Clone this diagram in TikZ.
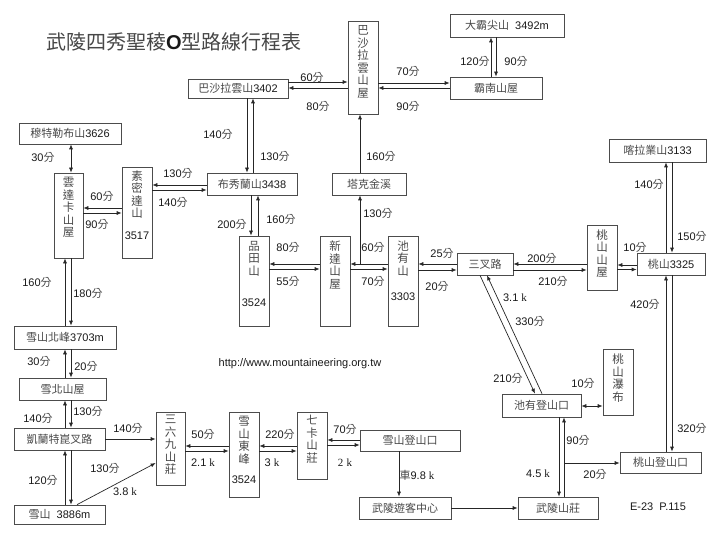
\documentclass[tikz,border=0pt]{standalone}
\usepackage{fontspec}
\setmainfont{Liberation Sans}
\newfontfamily\cjk{Noto Sans CJK TC}
\newfontfamily\serk{Liberation Serif}
\usetikzlibrary{arrows.meta}
\newcommand\C[1]{{\cjk\color{black!72}#1}}
\newcommand\Fen{{\cjk\color{black!72}分}}
\newcommand\Kk{{\serk k}}
\begin{document}
\begin{tikzpicture}[x=1pt,y=-1pt,
  every node/.style={font=\fontsize{11}{12}\selectfont, text=black!90},
  bx/.style={draw=black!70, line width=0.7pt, inner sep=0pt},
  vt/.style={align=center, inner sep=0pt, anchor=north, font=\cjk\fontsize{11.5}{12.5}\selectfont, text=black!72},
  lb/.style={inner sep=0pt},
  arr/.style={draw=black!85, line width=0.7pt, -{Latex[length=5pt,width=4pt]}},
  dbl/.style={draw=black!85, line width=0.7pt, {Latex[length=5pt,width=4pt]}-{Latex[length=5pt,width=4pt]}}]
\useasboundingbox (0,0) rectangle (720,540);

% title
\node[inner sep=0pt] (title) at (174,42) {\fontsize{20}{20}\selectfont\C{武陵四秀聖稜}{\bfseries O}\C{型路線行程表}};

% boxes
\node[bx, minimum width=100pt, minimum height=19pt] (bsl) at (238,88.5) {\C{巴沙拉雲山}3402};
\node[bx, minimum width=30pt, minimum height=93pt] (bsh) at (363,67.5) {};
\node[vt] (bsht) at ([yshift=-5pt]bsh.north) {巴\\沙\\拉\\雲\\山\\屋};
\node[bx, minimum width=114pt, minimum height=23pt] (dbj) at (507,25.5) {\C{大霸尖山}\ \ 3492m};
\node[bx, minimum width=92pt, minimum height=22pt] (bnh) at (496,88) {\C{霸南山屋}};
\node[bx, minimum width=102pt, minimum height=21pt] (mtl) at (70,133.5) {\C{穆特勒布山}3626};
\node[bx, minimum width=29pt, minimum height=85pt] (ydk) at (68.5,215.5) {};
\node[vt] (ydkt) at ([yshift=-4.5pt]ydk.north) {雲\\達\\卡\\山\\屋};
\node[bx, minimum width=30pt, minimum height=91pt] (smd) at (137,212.5) {};
\node[vt] (smdt) at ([yshift=-3.5pt]smd.north) {素\\密\\達\\山};
\node[lb] (smdn) at (137,236) {3517};
\node[bx, minimum width=90pt, minimum height=22pt] (bxl) at (252,184) {\C{布秀蘭山}3438};
\node[bx, minimum width=74pt, minimum height=22pt] (tkj) at (369,184) {\C{塔克金溪}};
\node[bx, minimum width=30pt, minimum height=90pt] (ptm) at (254,281) {};
\node[vt] (ptmt) at ([yshift=-5pt]ptm.north) {品\\田\\山};
\node[lb] (ptmn) at (254,303) {3524};
\node[bx, minimum width=30pt, minimum height=90pt] (xdh) at (335,281) {};
\node[vt] (xdht) at ([yshift=-5pt]xdh.north) {新\\達\\山\\屋};
\node[bx, minimum width=30pt, minimum height=90pt] (cys) at (403,281) {};
\node[vt] (cyst) at ([yshift=-5pt]cys.north) {池\\有\\山};
\node[lb] (cysn) at (403,297) {3303};
\node[bx, minimum width=56pt, minimum height=22pt] (scl) at (485,264) {\C{三叉路}};
\node[bx, minimum width=30pt, minimum height=65pt] (tsh) at (602,257.5) {};
\node[vt] (tsht) at ([yshift=-4.5pt]tsh.north) {桃\\山\\山\\屋};
\node[bx, minimum width=68pt, minimum height=22pt] (ts) at (671,264) {\C{桃山}3325};
\node[bx, minimum width=97pt, minimum height=23pt] (kly) at (657.5,150.5) {\C{喀拉業山}3133};
\node[bx, minimum width=79pt, minimum height=23pt] (cyd) at (541.5,405.5) {\C{池有登山口}};
\node[bx, minimum width=30pt, minimum height=66pt] (tsp) at (618,382) {};
\node[vt] (tspt) at ([yshift=-5pt]tsp.north) {桃\\山\\瀑\\布};
\node[bx, minimum width=81pt, minimum height=21pt] (tsd) at (660.5,462.5) {\C{桃山登山口}};
\node[bx, minimum width=80pt, minimum height=22pt] (wls) at (558,508) {\C{武陵山莊}};
\node[bx, minimum width=92pt, minimum height=22pt] (yk) at (405,508) {\C{武陵遊客中心}};
\node[bx, minimum width=100pt, minimum height=21pt] (xsd) at (410,440.5) {\C{雪山登山口}};
\node[bx, minimum width=30pt, minimum height=67pt] (qk) at (312,445.5) {};
\node[vt] (qkt) at ([yshift=-3.5pt]qk.north) {七\\卡\\山\\莊};
\node[bx, minimum width=30pt, minimum height=85pt] (xde) at (244,454.5) {};
\node[vt] (xdet) at ([yshift=-4.5pt]xde.north) {雪\\山\\東\\峰};
\node[lb] (xden) at (244,480) {3524};
\node[bx, minimum width=29pt, minimum height=73pt] (sl9) at (170.5,448.5) {};
\node[vt] (sl9t) at ([yshift=-3.5pt]sl9.north) {三\\六\\九\\山\\莊};
\node[bx, minimum width=102pt, minimum height=23pt] (xbf) at (65,337.5) {\C{雪山北峰}3703m};
\node[bx, minimum width=87pt, minimum height=22pt] (xbh) at (62.5,389) {\C{雪北山屋}};
\node[bx, minimum width=91pt, minimum height=22pt] (kl) at (59.5,439) {\C{凱蘭特崑叉路}};
\node[bx, minimum width=91pt, minimum height=19pt] (xs) at (59.5,514.5) {\C{雪山}\ \ 3886m};

% connectors
\draw[arr] (bsl.east |- 0,82) -- (bsh.west |- 0,82);
\draw[arr] (bsh.west |- 0,88) -- (bsl.east |- 0,88);
\draw[arr] (bsh.east |- 0,83) -- (bnh.west |- 0,83);
\draw[arr] (bnh.west |- 0,88) -- (bsh.east |- 0,88);
\draw[arr] (bnh.north -| 491,0) -- (dbj.south -| 491,0);
\draw[arr] (dbj.south -| 496,0) -- (bnh.north -| 496,0);
\draw[arr] (tkj.north -| 360,0) -- (bsh.south -| 360,0);
\draw[arr] (bsl.south -| 247,0) -- (bxl.north -| 247,0);
\draw[arr] (bxl.north -| 253,0) -- (bsl.south -| 253,0);
\draw[arr] (bxl.west |- 0,185) -- (smd.east |- 0,185);
\draw[arr] (smd.east |- 0,190) -- (bxl.west |- 0,190);
\draw[dbl] (mtl.south -| 71,0) -- (ydk.north -| 71,0);
\draw[arr] (smd.west |- 0,208) -- (ydk.east |- 0,208);
\draw[arr] (ydk.east |- 0,213) -- (smd.west |- 0,213);
\draw[arr] (xbf.north -| 65,0) -- (ydk.south -| 65,0);
\draw[arr] (ydk.south -| 71,0) -- (xbf.north -| 71,0);
\draw[arr] (xbh.north -| 65,0) -- (xbf.south -| 65,0);
\draw[arr] (xbf.south -| 71,0) -- (xbh.north -| 71,0);
\draw[arr] (kl.north -| 65,0) -- (xbh.south -| 65,0);
\draw[arr] (xbh.south -| 71,0) -- (kl.north -| 71,0);
\draw[arr] (xs.north -| 65,0) -- (kl.south -| 65,0);
\draw[arr] (kl.south -| 71,0) -- (xs.north -| 71,0);
\draw[arr] (kl.east |- 0,439) -- (sl9.west |- 0,439);
\draw[arr] (xs.north -| 77,0) -- (sl9.west |- 0,463);
\draw[arr] (xde.west |- 0,446) -- (sl9.east |- 0,446);
\draw[arr] (sl9.east |- 0,451) -- (xde.west |- 0,451);
\draw[arr] (qk.west |- 0,446) -- (xde.east |- 0,446);
\draw[arr] (xde.east |- 0,451) -- (qk.west |- 0,451);
\draw[arr] (xsd.west |- 0,440) -- (qk.east |- 0,440);
\draw[arr] (qk.east |- 0,445) -- (xsd.west |- 0,445);
\draw[arr] (xsd.south -| 399,0) -- (yk.north -| 399,0);
\draw[arr] (yk.east) -- (wls.west);
\draw[arr] (cyd.south -| 559,0) -- (wls.north -| 559,0);
\draw[arr] (wls.north -| 564,0) -- (cyd.south -| 564,0);
\coordinate (br) at (564,463);
\draw[arr] (br) -- (tsd.west |- br);
\draw[dbl] (cyd.east |- 0,406) -- (tsp.west |- 0,406);
\draw[arr] (scl.south -| 480,0) -- (cyd.north -| 535,0);
\draw[arr] (cyd.north -| 542,0) -- (scl.south -| 487,0);
\draw[arr] (tsd.north -| 666,0) -- (ts.south -| 666,0);
\draw[arr] (ts.south -| 672,0) -- (tsd.north -| 672,0);
\draw[arr] (ts.north -| 666,0) -- (kly.south -| 666,0);
\draw[arr] (kly.south -| 672,0) -- (ts.north -| 672,0);
\draw[arr] (ts.west |- 0,265) -- (tsh.east |- 0,265);
\draw[arr] (tsh.east |- 0,269.5) -- (ts.west |- 0,269.5);
\draw[arr] (tsh.west |- 0,264) -- (scl.east |- 0,264);
\draw[arr] (scl.east |- 0,270) -- (tsh.west |- 0,270);
\draw[arr] (scl.west |- 0,264) -- (cys.east |- 0,264);
\draw[arr] (cys.east |- 0,270) -- (scl.west |- 0,270);
\draw[arr] (cys.west |- 0,264) -- (xdh.east |- 0,264);
\draw[arr] (xdh.east |- 0,269) -- (cys.west |- 0,269);
\draw[arr] (xdh.west |- 0,264) -- (ptm.east |- 0,264);
\draw[arr] (ptm.east |- 0,269) -- (xdh.west |- 0,269);
\coordinate (j1) at (360,264);
\draw[arr] (j1) -- (tkj.south -| j1);
\draw[arr] (bxl.south -| 251,0) -- (ptm.north -| 251,0);
\draw[arr] (ptm.north -| 258,0) -- (bxl.south -| 258,0);

% labels
\node[lb] (l1) at (312,77) {60\Fen};
\node[lb] (l2) at (318,106) {80\Fen};
\node[lb] (l3) at (408,71) {70\Fen};
\node[lb] (l4) at (408,106) {90\Fen};
\node[lb] (l5) at (475,61) {120\Fen};
\node[lb] (l6) at (516,61) {90\Fen};
\node[lb] (l7) at (218,134) {140\Fen};
\node[lb] (l8) at (275,156) {130\Fen};
\node[lb] (l9) at (381,156) {160\Fen};
\node[lb] (l10) at (43,157) {30\Fen};
\node[lb] (l11) at (178,173) {130\Fen};
\node[lb] (l12) at (173,202) {140\Fen};
\node[lb] (l13) at (102,196) {60\Fen};
\node[lb] (l14) at (97,224) {90\Fen};
\node[lb] (l15) at (37,282) {160\Fen};
\node[lb] (l16) at (88,293) {180\Fen};
\node[lb] (l17) at (232,224) {200\Fen};
\node[lb] (l18) at (281,219) {160\Fen};
\node[lb] (l19) at (378,213) {130\Fen};
\node[lb] (l20) at (288,247) {80\Fen};
\node[lb] (l21) at (288,281) {55\Fen};
\node[lb] (l22) at (373,247) {60\Fen};
\node[lb] (l23) at (373,281) {70\Fen};
\node[lb] (l24) at (442,253) {25\Fen};
\node[lb] (l25) at (437,286) {20\Fen};
\node[lb] (l26) at (542,258) {200\Fen};
\node[lb] (l27) at (553,281) {210\Fen};
\node[lb] (l28) at (635,247) {10\Fen};
\node[lb] (l29) at (649,184) {140\Fen};
\node[lb] (l30) at (692,236) {150\Fen};
\node[lb] (l31) at (645,304) {420\Fen};
\node[lb] (l32) at (515,298) {3.1 \Kk};
\node[lb] (l33) at (530,321) {330\Fen};
\node[lb] (l34) at (508,378) {210\Fen};
\node[lb] (l35) at (583,383) {10\Fen};
\node[lb] (l36) at (578,440) {90\Fen};
\node[lb] (l37) at (538,474) {4.5 \Kk};
\node[lb] (l38) at (595,474) {20\Fen};
\node[lb] (l39) at (692,428) {320\Fen};
\node[lb] (l40) at (39,361) {30\Fen};
\node[lb] (l41) at (86,366) {20\Fen};
\node[lb] (l42) at (38,418) {140\Fen};
\node[lb] (l43) at (88,411) {130\Fen};
\node[lb] (l44) at (128,428) {140\Fen};
\node[lb] (l45) at (43,480) {120\Fen};
\node[lb] (l46) at (105,468) {130\Fen};
\node[lb] (l47) at (125,492) {3.8 \Kk};
\node[lb] (l48) at (203,434) {50\Fen};
\node[lb] (l49) at (203,463) {2.1 \Kk};
\node[lb] (l50) at (280,434) {220\Fen};
\node[lb] (l51) at (272,463) {3 \Kk};
\node[lb] (l52) at (345,429) {70\Fen};
\node[lb] (l53) at (345,463) {{\serk 2}\ \Kk};
\node[lb] (l54) at (417,475) {{\cjk\color{black!72}車}9.8 \Kk};
\node[lb] (url) at (300,364) {http://www.mountaineering.org.tw};
\node[lb] (ref) at (658,507) {E-23\ \ P.115};
\end{tikzpicture}
\end{document}
